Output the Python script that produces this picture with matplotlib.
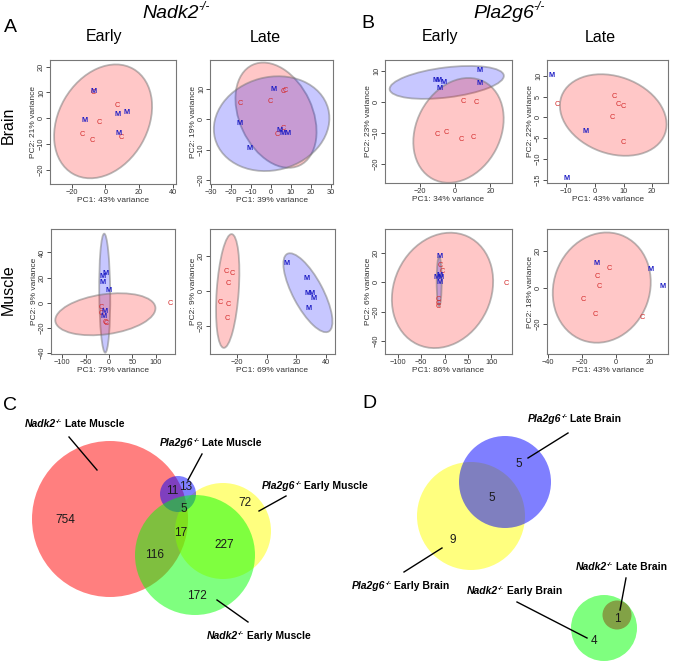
import matplotlib
matplotlib.use('Agg')
import matplotlib.pyplot as plt
import matplotlib.transforms as mtransforms
from matplotlib.patches import Ellipse, Circle
import numpy as np

plt.rcParams['font.family'] = ['Liberation Sans', 'DejaVu Sans']

# ---- PCA data (PC1, PC2) ----
nb_early_C = np.array([(-7, 9.9), (7.3, 5.0), (-3.5, -1.5), (9.4, -7.6), (-13.7, -6.4), (-7.8, -8.7)])
nb_early_M = np.array([(-7, 10.5), (7.5, 1.5), (12.4, 2.2), (-12.2, -1.0), (7.6, -5.8)])

nb_late_C = np.array([(6.1, 9.2), (7.3, 9.6), (-15.4, 5.1), (-0.2, 5.8), (6.0, -2.9), (3.2, -4.9)])
nb_late_M = np.array([(1.5, 10), (-15.8, -1.3), (-10.8, -9.5), (4.1, -3.5), (5.8, -4.8), (8.1, -4.8)])

pb_early_C = np.array([(4.8, 0), (12, -0.3), (-10.1, -10.5), (-4.8, -9.8), (3.4, -12), (10.5, -11.4)])
pb_early_M = np.array([(13.9, 10.1), (-10.9, 6.8), (-9.5, 6.8), (-6.7, 6.1), (-8.9, 4.2), (13.9, 5.8)])

pb_late_C = np.array([(-13.2, 3.0), (6.8, 5.1), (8.2, 3.2), (9.8, 2.6), (6.1, 0), (9.8, -6.0)])
pb_late_M = np.array([(-15, 10), (-3.2, -3.4), (-9.8, -14.7)])

nm_early_C = np.array([(129.8, -1.1), (-15.6, -3.7), (-16.3, -8.5), (-7.8, -15.7), (-6.4, -17)])
nm_early_M = np.array([(-6.4, 22.9), (-13.5, 20.8), (-14.2, 16.3), (-1.4, 9.3), (-10.6, -7.2), (-12, -10.7)])

nm_late_C = np.array([(-26.9, 11.4), (-23.1, 10.1), (-25.4, 4.4), (-31, -6.7), (-25.4, -8), (-26.5, -15.6)])
nm_late_M = np.array([(13.2, 15.8), (26.9, 7.2), (27.4, -1.3), (30.1, -1.7), (31.4, -4.2), (28.5, -9.9)])

pm_early_C = np.array([(-8.6, 11.4), (-4.3, 7.1), (-14.3, -11.4), (-12.9, -14.6), (-12.9, -16.4), (131, -0.7)])
pm_early_M = np.array([(-11.4, 17.8), (-10, 5), (-17, 3.2), (-9, 3.6), (-10, 0.2)])

pm_late_C = np.array([(-3.5, 10.6), (-10.7, 6.1), (-9.6, 0.4), (-19.2, -6.5), (-12.1, -15.1), (16, -16.6)])
pm_late_M = np.array([(-11.5, 13.4), (20.4, 10), (27.9, 0.6)])

pc1_var = [43, 39, 34, 43, 79, 69, 86, 43]
pc2_var = [21, 19, 23, 22, 9, 9, 6, 18]

# ellipse centres (data units) -- size in pixels, angle in degrees
ell_nb_early = [(-1.4, -1.25, 121, 89, 60, 'r')]
ell_nb_late = [(2.5, 1.4, 111, 73, -65, 'r'), (0.3, -1.4, 117, 93, 15, 'b')]
ell_pb_early = [(-4.8, 6.2, 115, 30, 7, 'b'), (1.9, -9.2, 110, 84, 62, 'r')]
ell_pb_late = [(6.4, 0.56, 110, 77, -20, 'r')]
ell_nm_early = [(-9.2, 7.5, 119, 11, 90.5, 'b'), (-7.8, -9.3, 101, 40, 8, 'r')]
ell_nm_late = [(-26.1, 0, 114, 22, 86, 'r'), (27.8, -1, 88, 30, -62, 'b')]
ell_pm_early = [(-4.3, -5.5, 119, 97, 65, 'r'), (-11.4, 0.7, 50, 5, 90, 'b')]
ell_pm_late = [(-8.2, 0.0, 112, 96, 70, 'r')]

# ---- Venn counts ----
venn_c_counts = ['754', '11', '13', '5', '17', '227', '116', '72', '172']
venn_d_counts = ['5', '5', '9', '1', '4']

W, H = 674, 661
fig = plt.figure(figsize=(W / 100, H / 100), dpi=100)

ov = fig.add_axes([0, 0, 1, 1])
ov.set_xlim(0, W)
ov.set_ylim(H, 0)
ov.axis('off')


def px_box(l, t, r, b):
    return [l / W, 1 - b / H, (r - l) / W, (b - t) / H]


fills = {'r': (1, 0, 0, 0.22), 'b': (0, 0, 1, 0.22)}

panels = [
    ((50, 60, 176, 184), (-33, 42), (-25.6, 22.6), [-20, 0, 20, 40], [-20, -10, 0, 10, 20], nb_early_C, nb_early_M, ell_nb_early),
    ((210, 60, 333, 184), (-30.5, 31), (-21.3, 19.6), [-30, -20, -10, 0, 10, 20, 30], [-20, -10, 0, 10], nb_late_C, nb_late_M, ell_nb_late),
    ((385, 60, 512, 183), (-40, 32.4), (-26.1, 13.4), [-20, 0, 20], [-20, -10, 0, 10], pb_early_C, pb_early_M, ell_pb_early),
    ((547, 60, 668, 183), (-16.7, 25.5), (-15.8, 13.8), [-10, 0, 10, 20], [-15, -10, -5, 0, 5, 10], pb_late_C, pb_late_M, ell_pb_late),
    ((51, 229, 175, 354), (-124, 141), (-41, 58.7), [-100, -50, 0, 50, 100], [-40, -20, 0, 20, 40], nm_early_C, nm_early_M, ell_nm_early),
    ((210, 229, 335, 354), (-38, 46), (-36, 35.4), [-20, 0, 20, 40], [-20, 0, 20], nm_late_C, nm_late_M, ell_nm_late),
    ((385, 229, 512, 354), (-127, 144), (-48.9, 36.4), [-100, -50, 0, 50, 100], [-40, -20, 0, 20], pm_early_C, pm_early_M, ell_pm_early),
    ((547, 229, 668, 354), (-40.6, 31), (-36.6, 32.3), [-40, -20, 0, 20], [-20, 0, 20], pm_late_C, pm_late_M, ell_pm_late),
]

for i, (box, xl, yl, xt, yt, pc, pm, ells) in enumerate(panels):
    ax = fig.add_axes(px_box(*box))
    ax.set_xlim(*xl)
    ax.set_ylim(*yl)
    for cx, cy, w, h, ang, col in ells:
        tr = fig.dpi_scale_trans + mtransforms.ScaledTranslation(cx, cy, ax.transData)
        ax.add_patch(Ellipse((0, 0), w / 100, h / 100, angle=ang, transform=tr,
                             facecolor=fills[col], edgecolor=(0.45, 0.45, 0.45, 0.5), lw=1.3))
    for x, y in pc:
        ax.text(x, y, 'C', color='#d42a2a', fontsize=5.3, ha='center', va='center')
    for x, y in pm:
        ax.text(x, y, 'M', color='#1c1cc4', fontsize=5.3, ha='center', va='center', weight='bold')
    ax.set_xticks(xt)
    ax.set_yticks(yt)
    ax.tick_params(labelsize=5.3, length=2.6, width=0.6, pad=1, colors='#333333')
    plt.setp(ax.get_yticklabels(), rotation=90, va='center')
    for s in ax.spines.values():
        s.set_color('#777777')
        s.set_linewidth(0.8)
    ax.set_xlabel(f'PC1: {pc1_var[i]}% variance', fontsize=6, labelpad=0.5, color='#333333')
    ax.set_ylabel(f'PC2: {pc2_var[i]}% variance', fontsize=6, labelpad=0.5, color='#333333')


def gene_label(x, y, gene, rest, size, weight):
    t1 = ov.text(x, y, gene, fontsize=size, style='italic', weight=weight, va='baseline', ha='left')
    t2 = ov.annotate('-/-', xy=(1.0, 0.5), xycoords=t1, fontsize=size * 0.62, style='italic',
                     weight=weight, va='bottom', ha='left')
    if rest:
        ov.annotate(rest, xy=(1.0, 0.0), xycoords=(t2, t1), fontsize=size, weight=weight,
                    va='bottom', ha='left')


# headers
gene_label(142, 17.5, 'Nadk2', '', 14, 'normal')
gene_label(473, 17.5, 'Pla2g6', '', 14, 'normal')
for lab, x, y in [('A', 10, 27), ('B', 368, 23), ('C', 10, 405), ('D', 369, 404)]:
    ov.text(x, y, lab, fontsize=14, ha='center', va='center')
for lab, x in [('Early', 104), ('Late', 265), ('Early', 440), ('Late', 600)]:
    ov.text(x, 37, lab, fontsize=11.5, ha='center', va='center')
ov.text(8, 125, 'Brain', fontsize=11.5, rotation=90, ha='center', va='center')
ov.text(8, 290, 'Muscle', fontsize=11.5, rotation=90, ha='center', va='center')

# ---- Venn C ----
venn_c_circles = [(110, 519, 78, (1, 0, 0)), (223, 531, 48, (1, 1, 0)),
                  (178, 494, 18, (0, 0, 1)), (195, 555, 60, (0, 1, 0))]
for cx, cy, r, col in venn_c_circles:
    ov.add_patch(Circle((cx, cy), r, facecolor=col, alpha=0.5, lw=0))
venn_c_pos = [(65, 520), (172, 491), (186, 487), (184, 509), (181, 533),
              (224, 545), (155, 555), (245, 503), (197, 596)]
for txt, (x, y) in zip(venn_c_counts, venn_c_pos):
    ov.text(x, y, txt, fontsize=8.5, ha='center', va='center', color='#1a1a1a')
for (x0, y0), (x1, y1) in [((69, 437), (97, 470)), ((202, 454), (188, 480)),
                           ((286, 496), (259, 511)), ((217, 600), (248, 622))]:
    ov.plot([x0, x1], [y0, y1], color='black', lw=1)
gene_label(25, 427, 'Nadk2', ' Late Muscle', 7.5, 'bold')
gene_label(160, 445.5, 'Pla2g6', ' Late Muscle', 7.5, 'bold')
gene_label(262, 489, 'Pla2g6', ' Early Muscle', 7.5, 'bold')
gene_label(207, 639, 'Nadk2', ' Early Muscle', 7.5, 'bold')

# ---- Venn D ----
venn_d_circles = [(471, 516, 54, (1, 1, 0), 0.5), (505, 482, 46, (0, 0, 1), 0.5),
                  (604, 628, 33, (0, 1, 0), 0.5), (617, 615, 14.5, '#82a246', 1)]
for cx, cy, r, col, a in venn_d_circles:
    ov.add_patch(Circle((cx, cy), r, facecolor=col, alpha=a, lw=0))
venn_d_pos = [(519, 464), (492, 498), (453, 540), (617, 619), (594, 641)]
for txt, (x, y) in zip(venn_d_counts, venn_d_pos):
    ov.text(x, y, txt, fontsize=8.5, ha='center', va='center', color='#1a1a1a')
for (x0, y0), (x1, y1) in [((568, 433), (528, 458)), ((442, 548), (404, 572)),
                           ((626, 578), (620, 610)), ((517, 602), (587, 638))]:
    ov.plot([x0, x1], [y0, y1], color='black', lw=1)
gene_label(528, 422.5, 'Pla2g6', ' Late Brain', 7.5, 'bold')
gene_label(352, 589, 'Pla2g6', ' Early Brain', 7.5, 'bold')
gene_label(576, 570.5, 'Nadk2', ' Late Brain', 7.5, 'bold')
gene_label(467, 594, 'Nadk2', ' Early Brain', 7.5, 'bold')

fig.savefig('out.png', dpi=100)
